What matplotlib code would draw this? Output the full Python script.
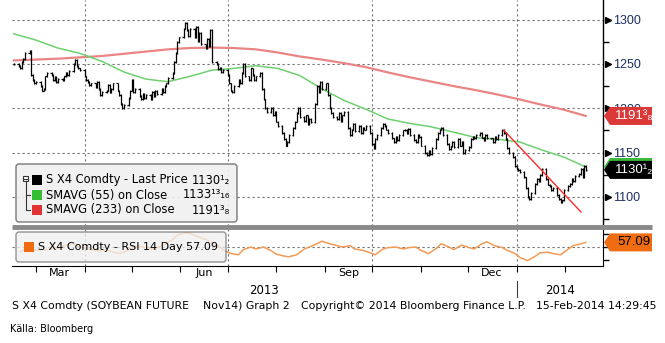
import numpy as np
import pandas as pd
import matplotlib
matplotlib.use('Agg')
import matplotlib.pyplot as plt
import matplotlib.dates as mdates
import matplotlib.transforms as mtransforms
from matplotlib.collections import LineCollection
from matplotlib.patches import Polygon, FancyBboxPatch, Rectangle
from matplotlib.lines import Line2D

W, H = 665, 343

# S X4 Comdty daily closes, 15-Feb-2013 .. 14-Feb-2014 (one row per week)
closes = [1250,
          1248, 1245, 1252, 1256, 1262,
          1265, 1238, 1232, 1228, 1230,
          1225, 1220, 1222, 1236, 1240,
          1238, 1232, 1235, 1230, 1233,
          1232, 1236, 1240, 1238, 1242,
          1250, 1255, 1248, 1245, 1243,
          1236, 1232, 1230, 1226, 1228,
          1224, 1230, 1222, 1215, 1218,
          1220, 1226, 1218, 1222, 1228,
          1220, 1215, 1205, 1200, 1204,
          1212, 1220, 1232, 1218, 1222,
          1214, 1210, 1216, 1212, 1215,
          1210, 1218, 1214, 1220, 1216,
          1222, 1218, 1225, 1228, 1234,
          1240, 1252, 1262, 1275, 1280,
          1290, 1296, 1288, 1282, 1290,
          1280, 1292, 1276, 1285, 1272,
          1268, 1278, 1270, 1288, 1252,
          1250, 1244, 1246, 1241, 1243,
          1238, 1228, 1220, 1218, 1225,
          1232, 1228, 1240, 1250, 1236,
          1232, 1245, 1238, 1232, 1236,
          1240, 1222, 1210, 1200, 1196,
          1200, 1192, 1196, 1185, 1180,
          1172, 1165, 1158, 1162, 1170,
          1178, 1185, 1195, 1200, 1190,
          1186, 1192, 1182, 1188, 1184,
          1205, 1225, 1218, 1230, 1222,
          1228, 1215, 1200, 1195, 1190,
          1188, 1195, 1186, 1192, 1196,
          1178, 1170, 1176, 1182, 1174,
          1180, 1172, 1178, 1176, 1180,
          1172, 1160, 1155, 1165, 1170,
          1178, 1182, 1180, 1176, 1172,
          1166, 1162, 1168, 1164, 1170,
          1175, 1176, 1172, 1177, 1170,
          1164, 1162, 1170, 1168, 1158,
          1150, 1147, 1152, 1148, 1155,
          1165, 1172, 1176, 1178, 1170,
          1160, 1154, 1157, 1162, 1156,
          1165, 1158, 1162, 1150, 1153,
          1156, 1165, 1168, 1166, 1170,
          1172, 1167, 1164, 1170, 1166,
          1166, 1162, 1168, 1165, 1170,
          1176, 1172, 1165, 1155, 1150,
          1145, 1135, 1132, 1130, 1128,
          1122, 1110, 1100, 1098, 1104,
          1115, 1120, 1118, 1125, 1132,
          1120, 1114, 1112, 1108, 1110,
          1102, 1098, 1094, 1096, 1108,
          1112, 1115, 1120, 1118, 1124,
          1126, 1132, 1122, 1135, 1130.5]

# moving averages, every 10th session
sma55 = [1284, 1277, 1268, 1262, 1253, 1241, 1233, 1230, 1236, 1243,
         1245, 1248, 1245, 1237, 1222, 1209, 1199, 1188, 1183, 1179,
         1173, 1167, 1165, 1162, 1153, 1145, 1133.8125]
sma233 = [1254, 1255, 1256, 1257.5, 1259, 1261.5, 1264, 1266.5, 1268, 1268.5,
          1268, 1266.5, 1263, 1258.5, 1255, 1251, 1246.5, 1240.5, 1235, 1230,
          1225, 1220.5, 1215.5, 1210, 1204, 1198.5, 1191.375]

# RSI 14 day, every 3rd session counted back from the last one
rsi14 = [43, 46, 44, 47, 45, 49, 47, 53, 55, 51,
         48, 46, 44, 46, 43, 40, 42, 48, 52, 49,
         47, 49, 54, 61, 68, 72, 71, 66, 62, 57,
         53, 46, 40, 38, 46, 50, 47, 50, 44, 39,
         36, 35, 38, 47, 50, 55, 59, 55, 52, 50,
         52, 47, 45, 41, 38, 47, 49, 50, 47, 49,
         50, 45, 40, 48, 55, 50, 46, 53, 49, 47,
         55, 58, 52, 49, 45, 40, 34, 29, 36, 41,
         42, 40, 38, 47, 52, 55, 57.09]

# hand-drawn downtrend line
trend_dates = ['2013-12-24', '2014-02-11']
trend_vals = [1175, 1083]

price_ticks = [1100, 1150, 1200, 1250, 1300]
price_minor = [1075, 1125, 1175, 1225, 1275]
rsi_ticks = [30, 50, 70]
month_names = ['Mar', 'Jun', 'Sep', 'Dec']
month_mid = ['2013-03-16', '2013-06-16', '2013-09-16', '2013-12-16']
quarter_starts = ['2013-04-01', '2013-07-01', '2013-10-01', '2014-01-01']

dates = pd.bdate_range('2013-02-15', '2014-02-14')
xd = mdates.date2num(dates)
c = np.array(closes)
o = np.r_[c[0], c[:-1]]

NARROW = ['Liberation Sans', 'DejaVu Sans']
PX = mtransforms.IdentityTransform()


def fy(y):
    return H - y


fig = plt.figure(figsize=(W / 100, H / 100), dpi=100)
fig.patch.set_facecolor('white')
ax = fig.add_axes([12 / W, 1 - 226 / H, 591 / W, 226 / H])
ax2 = fig.add_axes([12 / W, 1 - 266 / H, 591 / W, 37 / H])

xlim = (mdates.date2num(pd.Timestamp('2013-02-13 20:00')),
        mdates.date2num(pd.Timestamp('2014-02-25')))
grid_kw = dict(color='#707070', lw=0.8, ls=(0, (2, 2.5)))

# --- price panel
ax.set_xlim(*xlim)
ax.set_ylim(1067.2, 1322.2)
for y in price_ticks:
    ax.axhline(y, zorder=1, **grid_kw)
for q in quarter_starts:
    ax.axvline(mdates.date2num(pd.Timestamp(q)), zorder=1, **grid_kw)

ax.plot(dates[::10], sma233, color='#e98585', lw=1.6, zorder=2)
ax.plot(dates[::10], sma55, color='#6fd06f', lw=1.1, zorder=2)

# bars: open taken as the previous close
segs = []
for x, op, cl in zip(xd, o, c):
    segs.append([(x, min(op, cl) - 1.0), (x, max(op, cl) + 1.0)])
    segs.append([(x - 0.8, op), (x, op)])
    segs.append([(x, cl), (x + 0.8, cl)])
ax.add_collection(LineCollection(segs, colors='black', linewidths=0.9, zorder=3))

ax.plot(pd.to_datetime(trend_dates), trend_vals, color='#ff2a2a', lw=1.0, zorder=4)

for s in ['left', 'top', 'bottom']:
    ax.spines[s].set_visible(False)
ax.spines['right'].set_linewidth(1.0)
ax.set_xticks([])
ax.yaxis.tick_right()
ax.set_yticks(price_ticks)
ax.set_yticks(price_minor, minor=True)
ax.tick_params(axis='y', which='major', length=0, pad=7.5, labelsize=9,
               labelcolor='#1d2f63')
ax.tick_params(axis='y', which='minor', length=4, width=1, direction='out')
for lab in ax.get_yticklabels():
    lab.set_family(NARROW)
trans = mtransforms.blended_transform_factory(ax.transAxes, ax.transData)
ax.plot([1.008] * len(price_ticks), price_ticks, ls='none', marker='>',
        ms=5, color='black', transform=trans, clip_on=False)

# --- RSI panel
ax2.set_xlim(*xlim)
ax2.set_ylim(20.8, 77.7)
ax2.axhline(50, zorder=1, **grid_kw)
for q in quarter_starts:
    ax2.axvline(mdates.date2num(pd.Timestamp(q)), zorder=1, **grid_kw)
ax2.plot(dates[2::3], rsi14, color='#f39a55', lw=1.1, zorder=2)
for s in ['left', 'top']:
    ax2.spines[s].set_visible(False)
ax2.yaxis.tick_right()
ax2.set_yticks(rsi_ticks)
ax2.set_yticklabels([])
ax2.tick_params(axis='y', length=4, width=1, direction='out')
ax2.xaxis.set_major_locator(mdates.MonthLocator())
ax2.xaxis.set_major_formatter(plt.NullFormatter())
ax2.set_xticks(mdates.date2num(pd.to_datetime(month_mid)), minor=True)
ax2.set_xticklabels(month_names, minor=True)
ax2.tick_params(axis='x', which='major', length=4, width=0.8, direction='out')
ax2.tick_params(axis='x', which='minor', length=0, pad=1.5, labelsize=8)

# year labels and divider
jan1 = mdates.date2num(pd.Timestamp(quarter_starts[3]))
for label, x0, x1 in [('2013', xlim[0], jan1), ('2014', jan1, xlim[1])]:
    ax2.annotate(label, ((x0 + x1) / 2, 0), xycoords=('data', 'axes fraction'),
                 xytext=(0, -18), textcoords='offset points', ha='center',
                 va='center', fontsize=8.5)
xj = ax2.transData.transform((jan1, 0))[0]
fig.add_artist(Line2D([xj, xj], [fy(281), fy(297)], color='#404040', lw=0.8, transform=PX))

# separator between panels
fig.add_artist(Line2D([12, 652], [fy(227), fy(227)], color='#8a8a8a', lw=3.5,
                      transform=PX, solid_capstyle='butt'))


def price_tag(axis, value, text, fc, tc):
    y = axis.transData.transform((xlim[0], value))[1]
    x0, x1, h = 604, 652, 9
    pts = [(x0, y), (x0 + 6, y + h), (x1, y + h), (x1, y - h), (x0 + 6, y - h)]
    fig.add_artist(Polygon(pts, closed=True, transform=PX, fc=fc, ec='none', zorder=5))
    if text:
        fig.text((x0 + 30) / W, y / H, text, color=tc, fontsize=9.5, va='center',
                 ha='center', zorder=6, family=NARROW)


price_tag(ax, sma233[-1], '1191³₈', '#db3838', 'white')
price_tag(ax, sma55[-1], '', '#3cb83c', 'white')
price_tag(ax, closes[-1], '1130¹₂', 'black', 'white')
price_tag(ax2, rsi14[-1], '57.09', '#f06c10', 'black')

# price legend
fig.add_artist(FancyBboxPatch((16, fy(222)), 221, 58,
                              boxstyle='round,pad=0,rounding_size=3',
                              fc='#f0f0f0', ec='#6e6e6e', lw=1, alpha=0.92,
                              transform=PX, zorder=4))
fig.add_artist(Rectangle((23, fy(181)), 5, 5, fc='white', ec='#333333', lw=0.8,
                         transform=PX, zorder=5))
fig.add_artist(Line2D([23.8, 27.2], [fy(178.5), fy(178.5)], color='#333333',
                      lw=0.8, transform=PX, zorder=6))
fig.add_artist(Line2D([25.5, 25.5, 30], [fy(181), fy(210), fy(210)],
                      color='#333333', lw=0.8, transform=PX, zorder=5))
fig.add_artist(Line2D([25.5, 30], [fy(195), fy(195)], color='#333333',
                      lw=0.8, transform=PX, zorder=5))
entries = [('S X4 Comdty - Last Price', '1130¹₂', 'black', 180),
           ('SMAVG (55) on Close', '1133¹³₁₆', '#35bd35', 195),
           ('SMAVG (233) on Close', '1191³₈', '#e03434', 210)]
for name, val, col, y in entries:
    fig.add_artist(Rectangle((32, fy(y + 5)), 10, 10, fc=col, ec='none',
                             transform=PX, zorder=5))
    fig.text(46 / W, fy(y) / H, name, fontsize=8.3, va='center', ha='left', zorder=6)
    fig.text(230 / W, fy(y) / H, val, fontsize=8.3, va='center', ha='right', zorder=6)

# RSI legend
fig.add_artist(FancyBboxPatch((16, fy(262)), 210, 30,
                              boxstyle='round,pad=0,rounding_size=3',
                              fc='#f0f0f0', ec='#6e6e6e', lw=1, alpha=0.75,
                              transform=PX, zorder=4))
fig.add_artist(Rectangle((24, fy(252)), 10, 10, fc='#f26a10', ec='none',
                         transform=PX, zorder=5))
fig.text(38 / W, fy(247) / H, 'S X4 Comdty - RSI 14 Day 57.09', fontsize=8,
         va='center', ha='left', zorder=6)

# footer
fkw = dict(fontsize=7.8, va='center')
fig.text(12 / W, fy(306) / H, 'S X4 Comdty (SOYBEAN FUTURE', **fkw)
fig.text(203 / W, fy(306) / H, 'Nov14) Graph 2', **fkw)
fig.text(301 / W, fy(306) / H, 'Copyright© 2014 Bloomberg Finance L.P.', **fkw)
fig.text(656 / W, fy(306) / H, '15-Feb-2014 14:29:45', ha='right', **fkw)
fig.text(10 / W, fy(329) / H, 'Källa: Bloomberg', fontsize=7, va='center')

fig.savefig('out.png', dpi=100)
